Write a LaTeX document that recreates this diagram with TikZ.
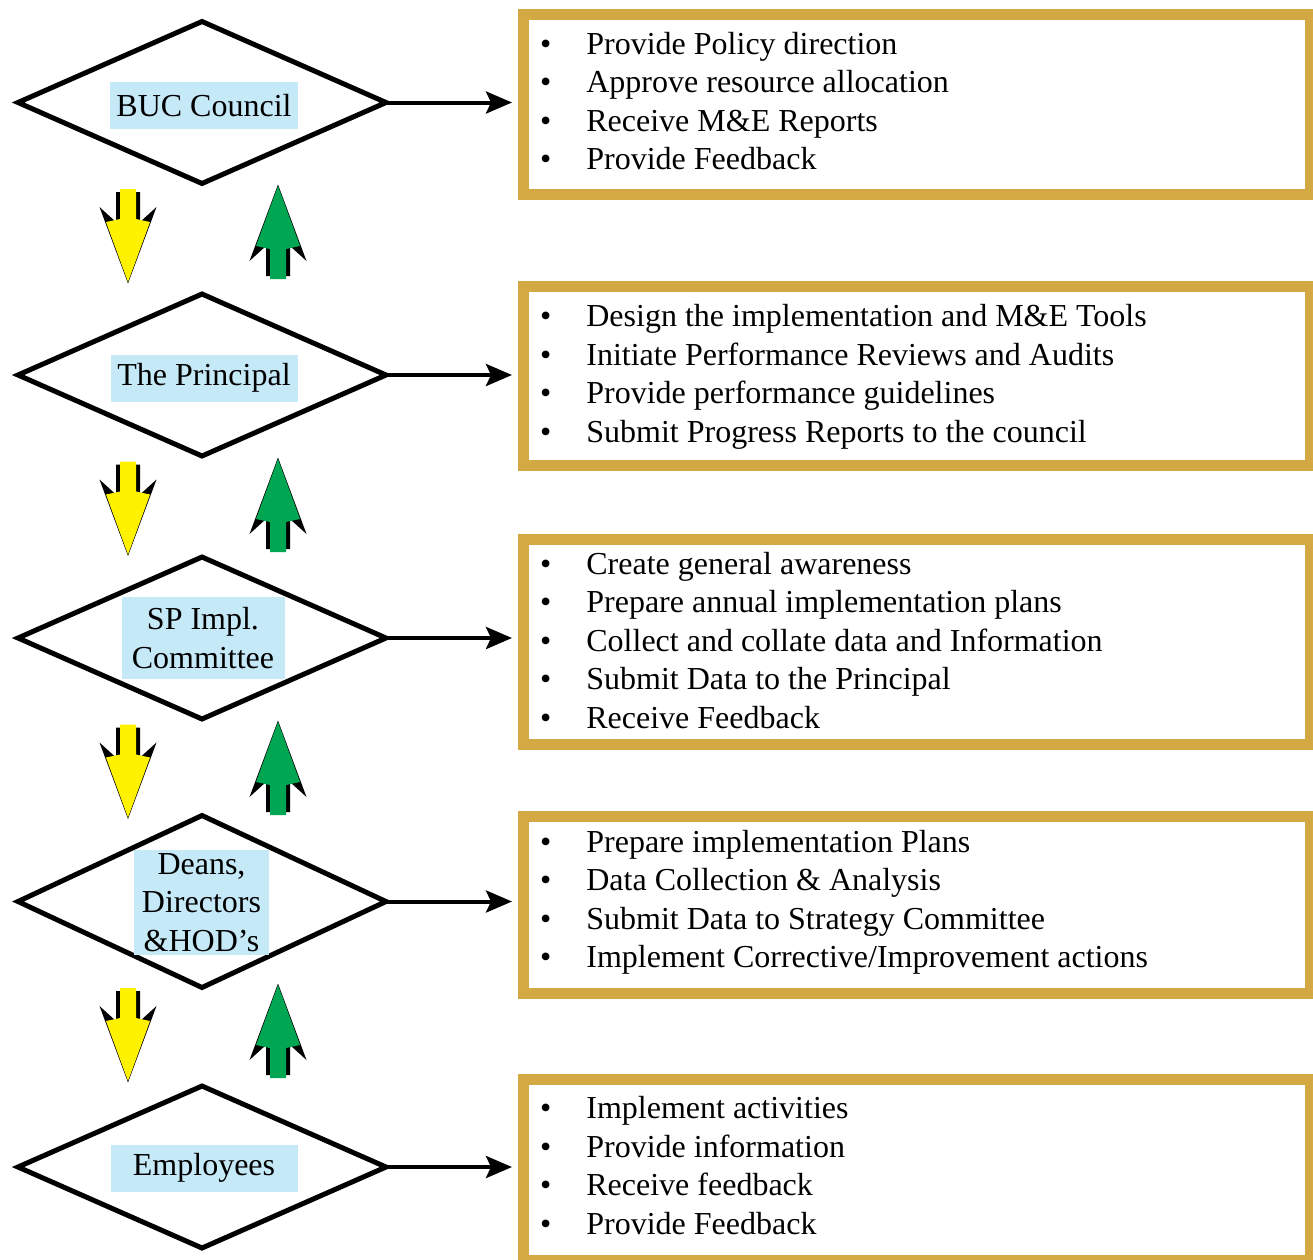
\documentclass[tikz,border=0pt]{standalone}
\usepackage{fontspec}
\setmainfont{Liberation Serif}
\usetikzlibrary{shapes.geometric, arrows.meta, calc}

\definecolor{boxgold}{RGB}{212,168,67}
\definecolor{tagblue}{RGB}{198,233,248}
\definecolor{arryellow}{RGB}{255,242,0}
\definecolor{arrgreen}{RGB}{0,166,81}

% block arrow with a black shadow, drawn pointing down from its origin
\tikzset{
  pics/flowarrow/.style={code={
    \fill[black] (-12,3) -- (12,3) -- (12,33) -- (28.5,18) -- (0,94.5) -- (-28.5,18) -- (-12,33) -- cycle;
    \fill[#1] (-8,0) -- (8,0) -- (8,30) -- (22,33) -- (0,93) -- (-22,33) -- (-8,30) -- cycle;
  }}
}

\begin{document}
\begin{tikzpicture}[x=1pt, y=-1pt,
  font=\fontsize{32}{38.5}\selectfont,
  rhomb/.style={diamond, draw, line width=5pt, minimum width=368pt, minimum height=162pt, inner sep=0pt, outer sep=0pt},
  tag/.style={fill=tagblue, align=center, inner xsep=6pt, inner ysep=3pt, minimum width=187pt, minimum height=47pt},
  duty/.style={draw=boxgold, line width=11pt, minimum width=787.5pt, anchor=north west, outer sep=0pt},
  duties/.style={anchor=base west, inner sep=0pt},
  link/.style={line width=4pt, shorten >=11pt, -{Stealth[length=26pt, width=22pt, inset=5pt]}}]
  \useasboundingbox (0,0) rectangle (1313,1259);

  % levels
  \node[rhomb] (council)   at (202,102.5) {};
  \node[rhomb] (principal) at (202,375) {};
  \node[rhomb] (committee) at (202,638) {};
  \node[rhomb, minimum height=172pt] (deans) at (202,901.5) {};
  \node[rhomb] (staff)     at (202,1167) {};

  \node[tag] (council-tag)   at (204,105.5) {BUC Council};
  \node[tag] (principal-tag) at (204,378) {The Principal};
  \node[tag, minimum width=163pt, minimum height=82pt] (committee-tag) at (203,638.2) {SP Impl.\\Committee};
  \node[tag, minimum width=135pt, minimum height=105pt] (deans-tag) at (201.5,902.5) {Deans,\\Directors\\\&HOD's};
  \node[tag] (staff-tag)     at (204,1168) {Employees};

  % down / up flow between levels
  \foreach \ty/\gy in {189/279, 461.5/552, 724.5/815, 988/1078} {
    \pic at (128,\ty) {flowarrow=arryellow};
    \pic[rotate=180] at (278,\gy) {flowarrow=arrgreen};
  }

  % duty boxes
  \node[duty, minimum height=180.5pt] (council-box)   at (523,14) {};
  \node[duty, minimum height=179pt]   (principal-box) at (523,286.5) {};
  \node[duty, minimum height=205pt]   (committee-box) at (523,539) {};
  \node[duty, minimum height=177pt]   (deans-box)     at (523,816.5) {};
  \node[duty, minimum height=181pt]   (staff-box)     at (523,1079.5) {};

  \node[duties] (council-list) at (540,54) {\begin{tabular}[t]{@{}l@{\hspace{35pt}}l@{}}
    \textbullet & Provide Policy direction\\
    \textbullet & Approve resource allocation\\
    \textbullet & Receive M\&E Reports\\
    \textbullet & Provide Feedback
  \end{tabular}};
  \node[duties] (principal-list) at (540,326.5) {\begin{tabular}[t]{@{}l@{\hspace{35pt}}l@{}}
    \textbullet & Design the implementation and M\&E Tools\\
    \textbullet & Initiate Performance Reviews and Audits\\
    \textbullet & Provide performance guidelines\\
    \textbullet & Submit Progress Reports to the council
  \end{tabular}};
  \node[duties] (committee-list) at (540,574.3) {\begin{tabular}[t]{@{}l@{\hspace{35pt}}l@{}}
    \textbullet & Create general awareness\\
    \textbullet & Prepare annual implementation plans\\
    \textbullet & Collect and collate data and Information\\
    \textbullet & Submit Data to the Principal\\
    \textbullet & Receive Feedback
  \end{tabular}};
  \node[duties] (deans-list) at (540,852) {\begin{tabular}[t]{@{}l@{\hspace{35pt}}l@{}}
    \textbullet & Prepare implementation Plans\\
    \textbullet & Data Collection \& Analysis\\
    \textbullet & Submit Data to Strategy Committee\\
    \textbullet & Implement Corrective/Improvement actions
  \end{tabular}};
  \node[duties] (staff-list) at (540,1118.5) {\begin{tabular}[t]{@{}l@{\hspace{35pt}}l@{}}
    \textbullet & Implement activities\\
    \textbullet & Provide information\\
    \textbullet & Receive feedback\\
    \textbullet & Provide Feedback
  \end{tabular}};

  % level -> duties
  \draw[link] (council.east)   -- (council.east -| council-box.west);
  \draw[link] (principal.east) -- (principal.east -| principal-box.west);
  \draw[link] (committee.east) -- (committee.east -| committee-box.west);
  \draw[link] (deans.east)     -- (deans.east -| deans-box.west);
  \draw[link] (staff.east)     -- (staff.east -| staff-box.west);
\end{tikzpicture}
\end{document}
